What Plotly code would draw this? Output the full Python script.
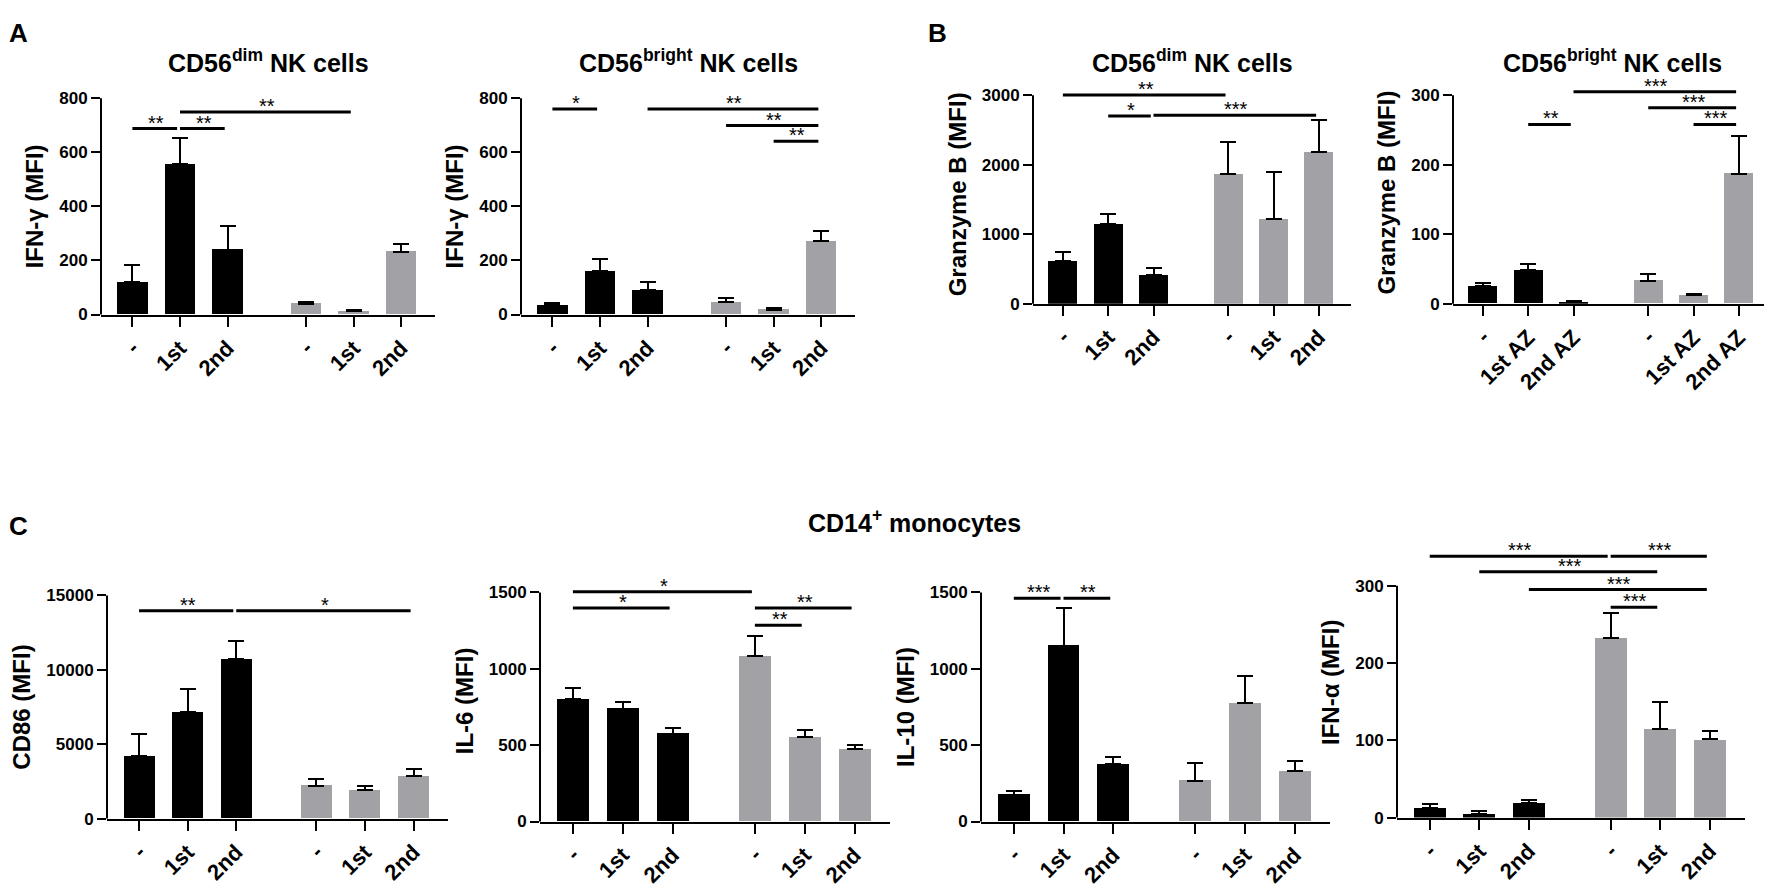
import plotly.graph_objects as go

W, H = 1772, 893
BLACK = "#000000"
GREY = "#a2a1a6"
FONT = "Liberation Sans, Arial, sans-serif"

# ---------------- data ----------------
stim = ["-", "1st", "2nd"]
stim_az = ["-", "1st AZ", "2nd AZ"]

ifng_dim = [120, 555, 240, 40, 12, 233]
ifng_dim_err = [65, 97, 88, 8, 5, 28]
ifng_dim_cmp = [(0, 1, 688, "**"), (1, 2, 688, "**"), (1, 4, 749, "**")]

ifng_bright = [36, 160, 90, 47, 18, 272]
ifng_bright_err = [8, 46, 30, 15, 7, 36]
ifng_bright_cmp = [(0, 1, 760, "*"), (2, 5, 760, "**"), (3, 5, 699, "**"), (4, 5, 641, "**")]

gzmb_dim = [620, 1155, 410, 1870, 1220, 2180]
gzmb_dim_err = [120, 130, 100, 460, 680, 460]
gzmb_dim_cmp = [(0, 3, 3005, "**"), (1, 2, 2703, "*"), (2, 5, 2713, "***")]

gzmb_bright = [25, 48, 2.5, 33, 12, 187]
gzmb_bright_err = [5, 9, 2, 10, 1.5, 55]
gzmb_bright_cmp = [(1, 2, 258, "**"), (2, 5, 305, "***"), (3, 5, 282, "***"), (4, 5, 258, "***")]

cd86 = [4200, 7150, 10700, 2200, 1900, 2850]
cd86_err = [1500, 1550, 1250, 450, 300, 450]
cd86_cmp = [(0, 2, 13970, "**"), (2, 5, 13970, "*")]

il6 = [800, 740, 575, 1085, 553, 476]
il6_err = [73, 42, 40, 128, 47, 28]
il6_cmp = [(0, 3, 1505, "*"), (0, 2, 1398, "*"), (3, 5, 1398, "**"), (3, 4, 1286, "**")]

il10 = [175, 1150, 375, 267, 775, 330]
il10_err = [28, 250, 45, 113, 175, 65]
il10_cmp = [(0, 1, 1462, "***"), (1, 2, 1462, "**")]

ifna = [12, 5, 19, 232, 115, 101]
ifna_err = [5, 3.5, 4, 33, 34, 11]
ifna_cmp = [(0, 3, 338, "***"), (3, 5, 338, "***"), (1, 4, 318, "***"), (2, 5, 295, "***"), (3, 4, 272, "***")]

# ---------------- layout helpers ----------------
GAP = 0.65
pos = [0, 1, 2, 3 + GAP, 4 + GAP, 5 + GAP]
XR = [-0.66, 6.36]

# (title, ytitle, values, errors, comparisons, labels, ytop, dtick, yrange_top, x0px, x1px, y0px, ytop_px)
panels = [
    ("CD56<sup>dim</sup> NK cells", "IFN-γ (MFI)", ifng_dim, ifng_dim_err, ifng_dim_cmp, stim, 800, 200, 800, 93, 427, 304, 83),
    ("CD56<sup>bright</sup> NK cells", "IFN-γ (MFI)", ifng_bright, ifng_bright_err, ifng_bright_cmp, stim, 800, 200, 800, 513, 847, 304, 83),
    ("CD56<sup>dim</sup> NK cells", "Granzyme B (MFI)", gzmb_dim, gzmb_dim_err, gzmb_dim_cmp, stim, 3000, 1000, 3150, 1025, 1343, 293, 80),
    ("CD56<sup>bright</sup> NK cells", "Granzyme B (MFI)", gzmb_bright, gzmb_bright_err, gzmb_bright_cmp, stim_az, 300, 100, 320, 1445, 1763, 293, 80),
    (None, "CD86 (MFI)", cd86, cd86_err, cd86_cmp, stim, 15000, 5000, 15000, 99, 440, 819, 591),
    (None, "IL-6 (MFI)", il6, il6_err, il6_cmp, stim, 1500, 500, 1580, 532, 882, 822, 588),
    (None, "IL-10 (MFI)", il10, il10_err, il10_cmp, stim, 1500, 500, 1500, 973, 1322, 822, 588),
    (None, "IFN-α (MFI)", ifna, ifna_err, ifna_cmp, stim, 300, 100, 350, 1389, 1737, 818, 581),
]

fig = go.Figure()
shapes, annotations = [], []
axis_font = dict(family=FONT, size=17, color="black", weight="bold")

for k, (title, ytitle, vals, errs, cmps, labs, ytop, dtick, yr, x0, x1, y0, yt) in enumerate(panels):
    n = "" if k == 0 else str(k + 1)
    xa, ya = "x" + n, "y" + n
    fig.add_trace(go.Bar(
        x=pos, y=vals, xaxis=xa, yaxis=ya, width=0.64,
        marker=dict(color=[BLACK] * 3 + [GREY] * 3, line=dict(width=0)),
        error_y=dict(type="data", symmetric=False, array=errs, arrayminus=[0] * 6,
                     color="black", thickness=2, width=8),
        showlegend=False, hoverinfo="y",
    ))
    # pixel height of the full y range
    top_px = y0 - (y0 - yt) * yr / ytop
    fig.layout["xaxis" + n] = dict(
        domain=[x0 / W, x1 / W], anchor=ya, range=XR,
        tickvals=pos, ticktext=labs + labs, tickangle=-45,
        showline=True, linecolor="black", linewidth=2,
        ticks="outside", ticklen=10, tickwidth=2, tickcolor="black",
        showgrid=False, zeroline=False,
        tickfont=dict(family=FONT, size=22, color="black", weight="bold"),
    )
    fig.layout["yaxis" + n] = dict(
        domain=[1 - y0 / H, 1 - top_px / H], anchor=xa, range=[0, yr],
        dtick=dtick, tick0=0, tickformat="d",
        showline=False, ticks="outside", ticklen=9, tickwidth=2, tickcolor="black",
        showgrid=False, zeroline=False, tickfont=axis_font,
        title=dict(text=ytitle, standoff=8,
                   font=dict(family=FONT, size=24, color="black", weight="bold")),
    )
    # y axis line stops at the top tick
    shapes.append(dict(type="line", xref=xa + " domain", yref=ya + " domain",
                       x0=0, x1=0, y0=0, y1=ytop / yr,
                       line=dict(color="black", width=2)))
    # significance brackets
    for i, j, yb, stars in cmps:
        shapes.append(dict(type="line", xref=xa, yref=ya,
                           x0=pos[i], x1=pos[j] - 0.06, y0=yb, y1=yb,
                           line=dict(color="black", width=3)))
        annotations.append(dict(xref=xa, yref=ya, x=(pos[i] + pos[j]) / 2, y=yb,
                                text=stars, showarrow=False, yanchor="bottom", yshift=-7,
                                font=dict(family=FONT, size=20, color="black")))
    if title:
        annotations.append(dict(xref=xa + " domain", yref="paper", x=0.5, y=1 - 45 / H,
                                text=title, showarrow=False, xanchor="center", yanchor="middle",
                                font=dict(family=FONT, size=25, color="black", weight="bold")))

annotations.append(dict(xref="paper", yref="paper", x=906 / W, y=1 - 515 / H,
                        text="CD14<sup>+</sup> monocytes", showarrow=False,
                        xanchor="center", yanchor="middle",
                        font=dict(family=FONT, size=25, color="black", weight="bold")))
for letter, lx, ly in [("A", 10, 16), ("B", 930, 16), ("C", 10, 520)]:
    annotations.append(dict(xref="paper", yref="paper", x=lx / W, y=1 - ly / H,
                            text=letter, showarrow=False, xanchor="center", yanchor="middle",
                            font=dict(family=FONT, size=26, color="black", weight="bold")))

fig.update_layout(
    width=W, height=H,
    margin=dict(l=0, r=0, t=0, b=0),
    paper_bgcolor="white", plot_bgcolor="white",
    shapes=shapes, annotations=annotations,
    bargap=0, font=dict(family=FONT, color="black"),
)

fig.write_html("out.html")
